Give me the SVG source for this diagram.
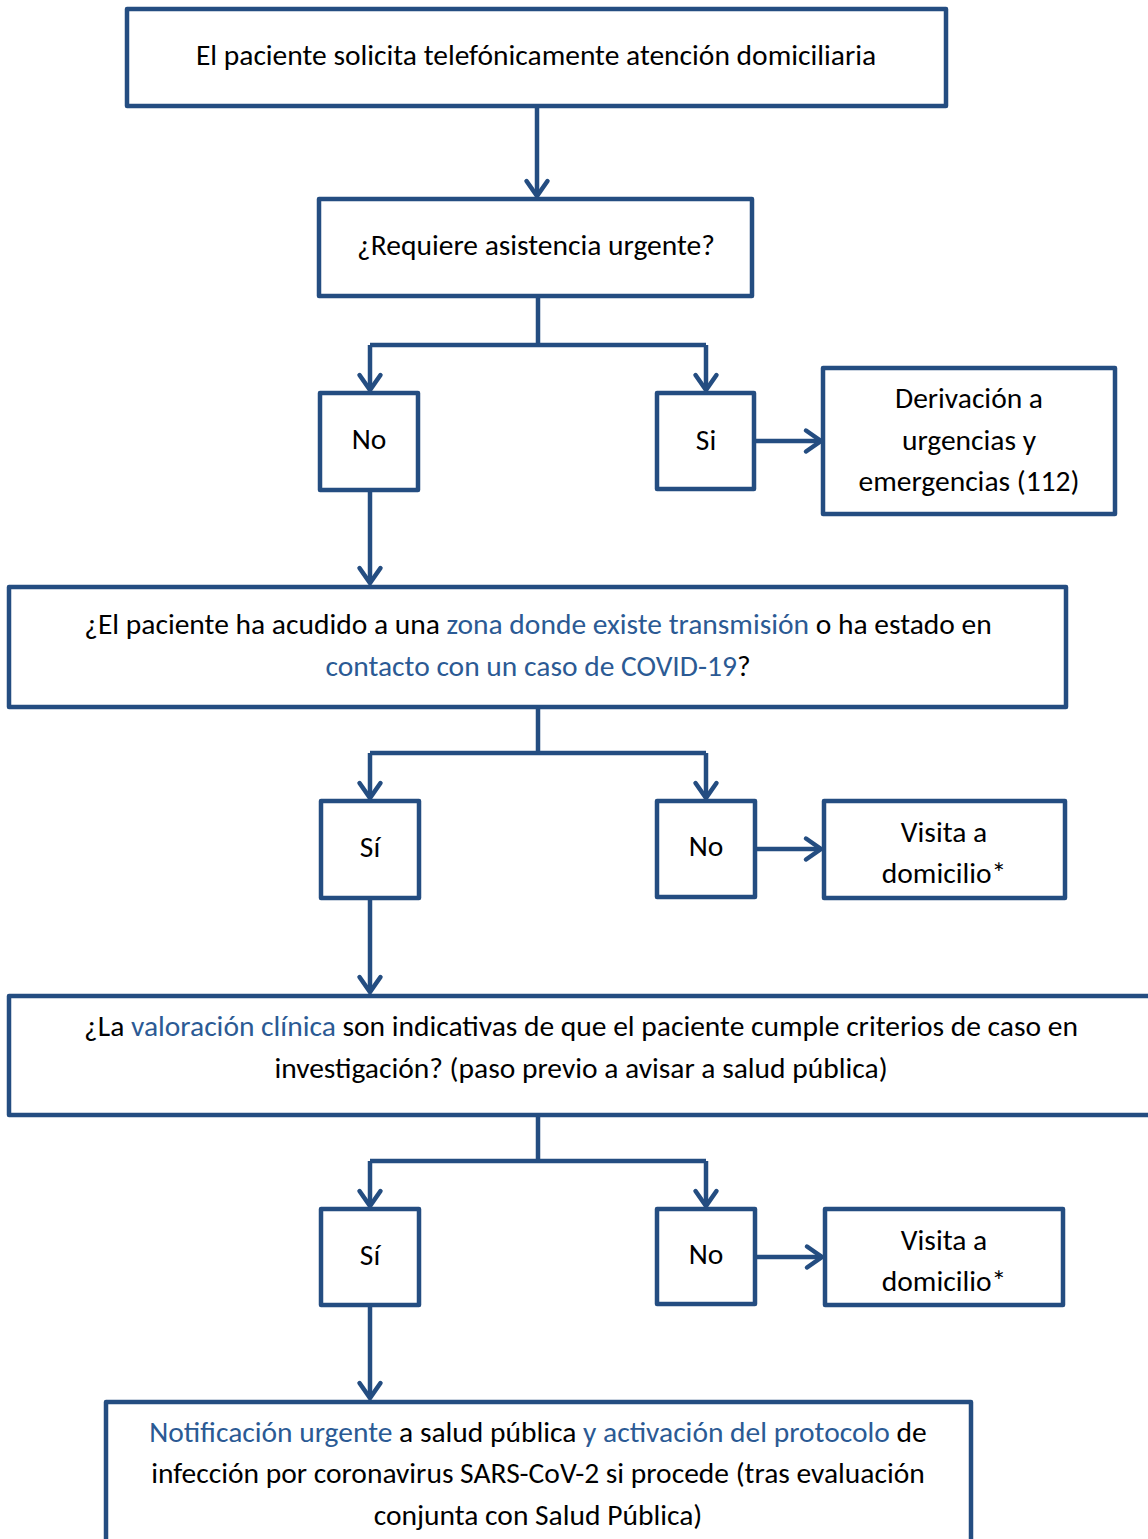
<svg xmlns="http://www.w3.org/2000/svg" width="1148" height="1539" viewBox="0 0 1148 1539">
<defs>
<style>
.box{fill:#fff;stroke:#244d81;stroke-width:4.5;stroke-linejoin:round}
.t{font-family:Carlito,"Open Sans","Noto Sans",sans-serif;font-size:29.5px;fill:#000;text-anchor:middle}
.b{fill:#2b5a94}
.c{fill:none;stroke:#244d81;stroke-width:4.5;stroke-linejoin:miter}
.a{marker-end:url(#arr)}
</style>
<marker id="arr" markerUnits="userSpaceOnUse" markerWidth="40" markerHeight="40" viewBox="-20 -20 40 40" refX="0" refY="0" orient="auto">
<path d="M-15,-10.5 L0,0 L-15,10.5" fill="none" stroke="#244d81" stroke-width="4.5" stroke-linecap="round" stroke-linejoin="miter"/>
</marker>
</defs>
<rect width="1148" height="1539" fill="#fff"/>
<g id="connectors">
<path class="c a" d="M537,106 V196"/>
<path class="c" d="M538,296 V345 M370,345 H706"/>
<path class="c a" d="M370,345 V390"/>
<path class="c a" d="M706,345 V390"/>
<path class="c a" d="M754,441 H821"/>
<path class="c a" d="M370,490 V583"/>
<path class="c" d="M538,707 V753 M370,753 H706"/>
<path class="c a" d="M370,753 V798"/>
<path class="c a" d="M706,753 V798"/>
<path class="c a" d="M755,849 H821"/>
<path class="c a" d="M370,898 V992"/>
<path class="c" d="M538,1115 V1161 M370,1161 H706"/>
<path class="c a" d="M370,1161 V1206"/>
<path class="c a" d="M706,1161 V1206"/>
<path class="c a" d="M755,1257 H822"/>
<path class="c a" d="M370,1305 V1398"/>
</g>
<g id="n1"><rect class="box" x="127" y="9" width="819" height="97"/>
<text class="t" x="536" y="65">El paciente solicita telefónicamente atención domiciliaria</text></g>
<g id="n2"><rect class="box" x="319" y="199" width="433" height="97"/>
<text class="t" x="536" y="255">¿Requiere asistencia urgente?</text></g>
<g id="n3"><rect class="box" x="320" y="393" width="98" height="97"/>
<text class="t" x="369" y="449">No</text></g>
<g id="n4"><rect class="box" x="657" y="393" width="97" height="96"/>
<text class="t" x="706" y="450">Si</text></g>
<g id="n5"><rect class="box" x="823" y="368" width="292" height="146"/>
<text class="t" x="969" y="408">Derivación a</text>
<text class="t" x="969" y="450">urgencias y</text>
<text class="t" x="969" y="491">emergencias (112)</text></g>
<g id="n6"><rect class="box" x="9" y="587" width="1057" height="120"/>
<text class="t" x="538" y="634">¿El paciente ha acudido a una <tspan class="b">zona donde existe transmisión</tspan> o ha estado en</text>
<text class="t" x="538" y="676"><tspan class="b">contacto con un caso de COVID-19</tspan>?</text></g>
<g id="n7"><rect class="box" x="321" y="801" width="98" height="97"/>
<text class="t" x="370" y="857">Sí</text></g>
<g id="n8"><rect class="box" x="657" y="801" width="98" height="96"/>
<text class="t" x="706" y="856">No</text></g>
<g id="n9"><rect class="box" x="824" y="801" width="241" height="97"/>
<text class="t" x="944" y="842">Visita a</text>
<text class="t" x="944" y="883">domicilio*</text></g>
<g id="n10"><rect class="box" x="9" y="996" width="1150" height="119"/>
<text class="t" x="581" y="1036">¿La <tspan class="b">valoración clínica</tspan> son indicativas de que el paciente cumple criterios de caso en</text>
<text class="t" x="581" y="1078">investigación? (paso previo a avisar a salud pública)</text></g>
<g id="n11"><rect class="box" x="321" y="1209" width="98" height="96"/>
<text class="t" x="370" y="1265">Sí</text></g>
<g id="n12"><rect class="box" x="657" y="1209" width="98" height="95"/>
<text class="t" x="706" y="1264">No</text></g>
<g id="n13"><rect class="box" x="825" y="1209" width="238" height="96"/>
<text class="t" x="944" y="1250">Visita a</text>
<text class="t" x="944" y="1291">domicilio*</text></g>
<g id="n14"><rect class="box" x="106" y="1402" width="865" height="150"/>
<text class="t" x="538" y="1442"><tspan class="b">Notificación urgente</tspan> a salud pública <tspan class="b">y activación del protocolo</tspan> de</text>
<text class="t" x="538" y="1483">infección por coronavirus SARS-CoV-2 si procede (tras evaluación</text>
<text class="t" x="538" y="1525">conjunta con Salud Pública)</text></g>
</svg>
